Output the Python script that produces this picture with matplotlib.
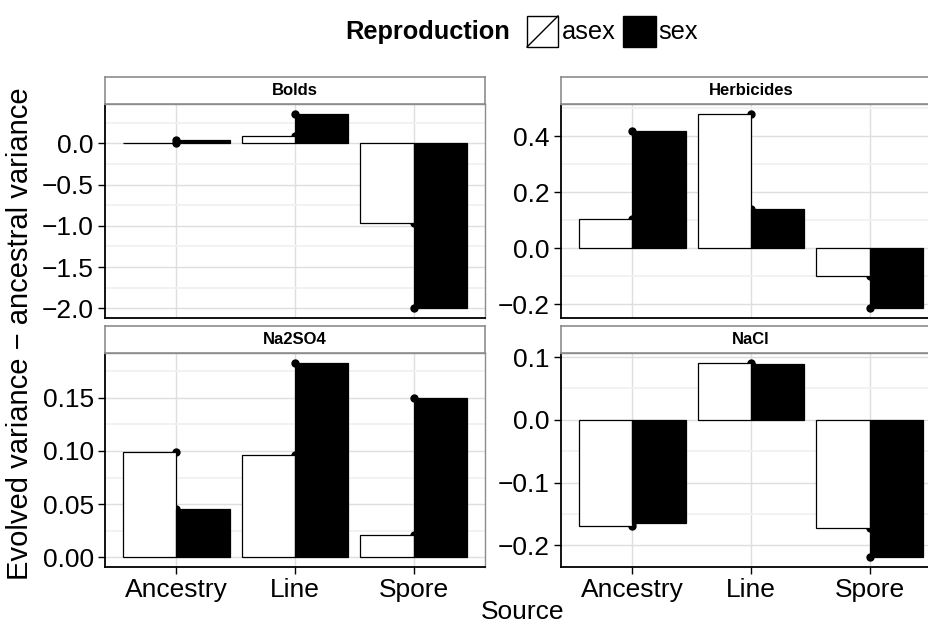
'''
variance_change
-----------------------------------------------------------
evolved minus ancestral variance by source and reproduction
'''
# Load packages -------------------------------------------
import numpy as np
import matplotlib
matplotlib.use('Agg')
import matplotlib.pyplot as plt
from matplotlib.ticker import FixedLocator, MultipleLocator, FuncFormatter
from matplotlib.patches import Rectangle
from matplotlib.lines import Line2D

plt.rcParams['font.family'] = ['Liberation Sans', 'DejaVu Sans']

# Data ----------------------------------------------------
sources = ['Ancestry', 'Line', 'Spore']
facets = ['Bolds', 'Herbicides', 'Na2SO4', 'NaCl']

bolds_asex = [0.003, 0.09, -0.97]
bolds_sex = [0.045, 0.36, -2.0]
herb_asex = [0.104, 0.48, -0.098]
herb_sex = [0.42, 0.139, -0.214]
na2so4_asex = [0.099, 0.096, 0.021]
na2so4_sex = [0.045, 0.183, 0.150]
nacl_asex = [-0.169, 0.091, -0.172]
nacl_sex = [-0.164, 0.089, -0.219]

bolds_ticks = [-2.0, -1.5, -1.0, -0.5, 0.0]
herb_ticks = [-0.2, 0.0, 0.2, 0.4]
na2so4_ticks = [0.0, 0.05, 0.10, 0.15]
nacl_ticks = [-0.2, -0.1, 0.0, 0.1]

panel_asex = [bolds_asex, herb_asex, na2so4_asex, nacl_asex]
panel_sex = [bolds_sex, herb_sex, na2so4_sex, nacl_sex]
panel_ticks = [bolds_ticks, herb_ticks, na2so4_ticks, nacl_ticks]
panel_fmt = ['%.1f', '%.1f', '%.2f', '%.1f']

# Layout (pixels) -----------------------------------------
W, H = 929, 626
# left, plot top, plot bottom
boxes = [(105, 104, 318), (561, 104, 318), (105, 353, 567), (561, 353, 567)]
panel_w = 380
strip_h = 27


def fbox(x0, y_top, w, h):
    return [x0 / W, (H - y_top - h) / H, w / W, h / H]


# Plot ----------------------------------------------------
fig = plt.figure(figsize=(W / 100, H / 100), dpi=100)
fig.patch.set_facecolor('white')

x = np.arange(1, len(sources) + 1)
bw = 0.45

for i, name in enumerate(facets):
    x0, ytop, ybot = boxes[i]
    ax = fig.add_axes(fbox(x0, ytop, panel_w, ybot - ytop))
    ax.use_sticky_edges = False

    asex = panel_asex[i]
    sex = panel_sex[i]

    # points sit under the bars at the group centre
    ax.plot(x, asex, 'o', color='black', ms=6, mew=0, zorder=1.5)
    ax.plot(x, sex, 'o', color='black', ms=6, mew=0, zorder=1.5)

    ax.bar(x - bw / 2, asex, width=bw, color='white', edgecolor='black',
           linewidth=0.9, zorder=2)
    ax.bar(x + bw / 2, sex, width=bw, color='black', edgecolor='black',
           linewidth=0.9, zorder=2)

    ax.margins(x=0, y=0.05)
    ax.set_xlim(0.4, 3.6)

    step = panel_ticks[i][1] - panel_ticks[i][0]
    ax.yaxis.set_major_locator(FixedLocator(panel_ticks[i]))
    ax.yaxis.set_minor_locator(MultipleLocator(step / 2))
    fmt = panel_fmt[i]
    ax.yaxis.set_major_formatter(
        FuncFormatter(lambda v, p, f=fmt: (f % v).replace('-', '\u2212')))

    ax.set_axisbelow(True)
    ax.grid(True, which='major', color='#DEDEDE', linewidth=1.0)
    ax.grid(True, which='minor', axis='y', color='#F2F2F2', linewidth=1.4)

    ax.tick_params(which='major', length=5, width=1.0, color='black',
                   labelsize=19, pad=3)
    ax.tick_params(which='minor', length=0)

    ax.set_xticks(x)
    if i >= 2:
        ax.set_xticklabels(sources)
    else:
        # upper row shares the x axis of the lower row
        ax.set_xticklabels([])
        ax.tick_params(axis='x', length=0)

    for side in ['top', 'right']:
        ax.spines[side].set_color('#8C8C8C')
        ax.spines[side].set_linewidth(1.0)
    for side in ['left', 'bottom']:
        ax.spines[side].set_color('black')
        ax.spines[side].set_linewidth(1.3)

    # facet strip
    sax = fig.add_axes(fbox(x0, ytop - strip_h, panel_w, strip_h))
    sax.set_xticks([])
    sax.set_yticks([])
    sax.set_facecolor('white')
    for side in sax.spines.values():
        side.set_color('#8C8C8C')
        side.set_linewidth(1.2)
    sax.text(0.5, 0.5, name, ha='center', va='center', fontsize=12,
             fontweight='bold', transform=sax.transAxes)

# Axis titles ---------------------------------------------
fig.text(523 / W, 1 - 612 / H, 'Source', ha='center', va='center', fontsize=19)
fig.text(20 / W, 1 - 334 / H, 'Evolved variance \u2212 ancestral variance',
         ha='center', va='center', rotation=90, fontsize=21)

# Legend --------------------------------------------------
fig.text(510 / W, 1 - 32 / H, 'Reproduction', ha='right', va='center',
         fontsize=18.3, fontweight='bold')
key_y = 1 - 47 / H
key_h = 31 / H
fig.add_artist(Rectangle((527 / W, key_y), 31 / W, key_h, facecolor='white',
                         edgecolor='black', linewidth=1.0,
                         transform=fig.transFigure))
fig.add_artist(Line2D([527 / W, 558 / W], [key_y, key_y + key_h],
                      color='black', linewidth=1.0, transform=fig.transFigure))
fig.text(562 / W, 1 - 32 / H, 'asex', ha='left', va='center', fontsize=18.3)
fig.add_artist(Rectangle((623 / W, key_y), 33 / W, key_h, facecolor='black',
                         edgecolor='black', linewidth=1.0,
                         transform=fig.transFigure))
fig.text(658 / W, 1 - 32 / H, 'sex', ha='left', va='center', fontsize=18.3)

# Save plot:
plt.savefig('out.png', dpi=100)
